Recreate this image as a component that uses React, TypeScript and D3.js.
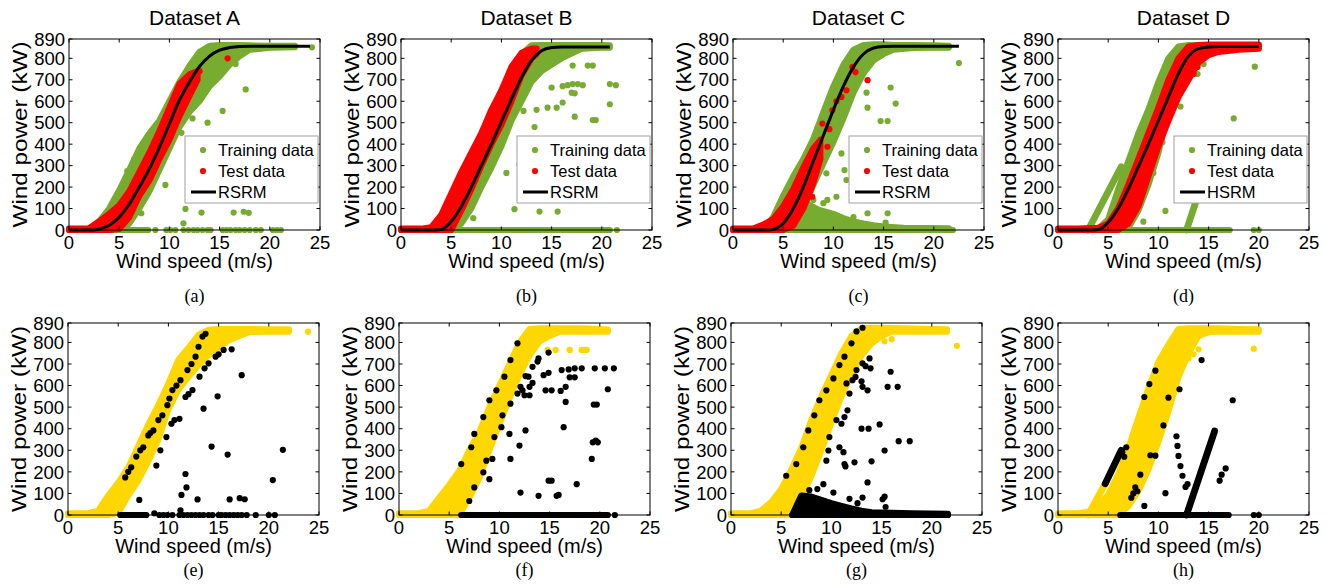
import React from 'react';
import * as d3 from 'd3';

type Pt = [number, number];

const speedTicks = [0, 5, 10, 15, 20, 25];
const powerTicks = [0, 100, 200, 300, 400, 500, 600, 700, 800, 890];
const titles = ['Dataset A', 'Dataset B', 'Dataset C', 'Dataset D'];
const topCaptions = ['(a)', '(b)', '(c)', '(d)'];
const bottomCaptions = ['(e)', '(f)', '(g)', '(h)'];
const modelNames = ['RSRM', 'RSRM', 'RSRM', 'HSRM'];

const GREEN = '#77ac30';
const RED = '#ff0000';
const GOLD = '#ffd700';
const BLACK = '#000000';

// ---- Dataset A (top) ----
const aTrainSpeed = [2, 3, 4, 5, 6, 7, 8, 9, 10, 11, 12, 13, 14, 15, 16, 17, 18, 20, 22.5];
const aTrainHigh = [5, 40, 100, 185, 280, 380, 450, 510, 600, 690, 765, 830, 858, 862, 862, 862, 860, 858, 858];
const aTrainLow = [0, 0, 0, 0, 30, 100, 180, 280, 380, 480, 550, 600, 670, 715, 770, 810, 840, 850, 852];
const aTrainDots: Pt[] = [[24.2, 851], [15.3, 555], [13.8, 500], [17.6, 655], [11.2, 453], [11.6, 98], [11.4, 31], [13.2, 81], [16.4, 81], [17.4, 85], [17.9, 80], [16.6, 773], [4.0, 81], [7.2, 78], [13.2, 705], [14.5, 740], [5.8, 275], [6.5, 330], [9.6, 210], [12.3, 520]];
const aTrainZeroRun = [0, 7.9];
const aTrainZeros = [8.6, 9.7, 10.1, 10.6, 11.4, 11.9, 12.4, 12.8, 13.3, 13.8, 14.1, 15.3, 15.7, 16.1, 16.6, 17.0, 17.5, 18.0, 18.6, 19.1, 20.3, 20.7, 21.1];
const aTestSpeed = [0, 1, 2, 3, 4, 5, 6, 7, 8, 9, 10, 11, 12, 12.8];
const aTestHigh = [6, 6, 8, 40, 75, 115, 180, 270, 360, 460, 570, 680, 725, 740];
const aTestLow = [0, 0, 0, 0, 0, 5, 60, 160, 230, 330, 420, 530, 625, 700];
const aTestDots: Pt[] = [[15.8, 800], [13.0, 740]];
const aModelSpeed = [0, 1, 2, 2.5, 3, 4, 5, 6, 7, 8, 9, 10, 11, 12, 13, 14, 15, 16, 17, 18, 20, 22, 24];
const aModelPower = [0, 0, 0, 0, 5, 22, 60, 120, 200, 285, 385, 495, 605, 690, 762, 810, 838, 850, 855, 856, 856, 856, 856];

// ---- Dataset B (top) ----
const bTrainSpeed = [3, 4, 5, 6, 7, 8, 9, 10, 11, 12, 13, 14, 15, 16, 18, 20, 20.8];
const bTrainHigh = [5, 50, 160, 260, 350, 450, 550, 650, 740, 820, 860, 862, 862, 862, 862, 862, 860];
const bTrainLow = [0, 0, 0, 30, 100, 200, 290, 390, 510, 600, 690, 740, 770, 800, 845, 850, 850];
const bTrainDots: Pt[] = [[17.1, 766], [18.6, 766], [19.1, 766], [15.0, 664], [16.1, 670], [16.6, 675], [17.1, 680], [17.6, 680], [18.1, 675], [17.3, 637], [17.0, 640], [14.6, 570], [15.5, 570], [16.1, 594], [17.3, 528], [19.1, 512], [19.4, 512], [20.8, 680], [21.4, 675], [20.8, 586], [12.2, 555], [11.8, 305], [12.6, 266], [10.5, 266], [12.3, 164], [11.3, 97], [13.8, 86], [15.6, 86], [7.2, 55], [13.5, 560], [13.3, 480]];
const bTrainZeroRun = [0, 20.8];
const bTrainZeros = [21.5];
const bTestSpeed = [0, 2, 3, 4, 5, 6, 7, 8, 9, 10, 11, 12, 13, 13.5];
const bTestHigh = [6, 6, 12, 70, 170, 270, 360, 450, 560, 650, 760, 825, 845, 845];
const bTestLow = [0, 0, 0, 0, 0, 90, 190, 300, 400, 490, 600, 720, 800, 820];
const bModelSpeed = [0, 3.5, 4, 5, 6, 7, 8, 9, 10, 11, 12, 13, 14, 15, 16, 17, 18, 20, 20.8];
const bModelPower = [0, 0, 2, 40, 110, 200, 300, 400, 505, 610, 710, 790, 835, 850, 853, 853, 853, 853, 853];

// ---- Dataset C (top) ----
const cTrainSpeed = [3, 4, 5, 6, 7, 8, 9, 10, 11, 12, 13, 14, 15, 16, 18, 20, 21.5];
const cTrainHigh = [5, 60, 160, 250, 330, 425, 550, 670, 770, 840, 862, 865, 865, 862, 862, 860, 858];
const cTrainLow = [0, 0, 0, 20, 90, 210, 310, 410, 520, 640, 730, 790, 820, 840, 848, 850, 850];
const cSpraySpeed = [5.5, 6.5, 7.5, 8.5, 10, 11, 12, 13, 14, 15, 17, 21.5];
const cSprayHigh = [0, 110, 120, 95, 75, 55, 40, 30, 22, 16, 10, 8];
const cSprayLow = [0, 0, 0, 0, 0, 0, 0, 0, 0, 0, 0, 0];
const cTrainDots: Pt[] = [[15.7, 664], [16.2, 589], [14.7, 508], [15.4, 508], [13.4, 570], [10.8, 357], [11.1, 279], [11.3, 233], [9.3, 264], [9.4, 140], [10.3, 155], [13.4, 78], [15.4, 78], [15.2, 34], [22.5, 778], [12.3, 720], [13.3, 640], [6.3, 178], [6.9, 165], [8.0, 140], [9.0, 125], [12.0, 60]];
const cTrainZeroRun = [0, 21.9];
const cTestSpeed = [0, 2, 3, 4, 5, 6, 7, 8, 8.7];
const cTestHigh = [6, 6, 25, 50, 110, 190, 290, 380, 420];
const cTestLow = [0, 0, 0, 0, 0, 20, 100, 220, 330];
const cTestDots: Pt[] = [[9.9, 558], [10.8, 620], [11.3, 651], [11.9, 760], [12.2, 736], [13.4, 698], [8.9, 496], [9.4, 388], [8.3, 372], [7.9, 155], [9.6, 470], [10.3, 600]];
const cModelSpeed = [0, 3.5, 4, 5, 6, 7, 8, 9, 10, 11, 12, 13, 14, 15, 16, 18, 20, 22.5];
const cModelPower = [0, 0, 3, 30, 100, 200, 320, 440, 560, 670, 760, 820, 848, 855, 856, 856, 856, 856];

// ---- Dataset D (top) ----
const dTrainSpeed = [4, 5, 6, 7, 8, 9, 10, 11, 12, 13, 14, 15, 16, 18, 20];
const dTrainHigh = [5, 50, 190, 320, 450, 560, 690, 800, 855, 862, 862, 862, 862, 860, 858];
const dTrainLow = [0, 0, 0, 10, 90, 210, 360, 560, 690, 780, 840, 848, 850, 850, 850];
const dTrainDots: Pt[] = [[9.5, 266], [10.7, 89], [10.4, 409], [12.2, 575], [11.9, 359], [8.5, 39], [17.5, 520], [19.6, 761], [7.5, 109], [7.8, 130], [8.0, 156], [14.5, 773], [13.9, 727], [6.5, 280], [6.9, 300]];
const dSlantLeft: Pt[] = [[3.0, 0], [6.3, 295]];
const dSlantRight: Pt[] = [[12.8, 0], [15.5, 380]];
const dTrainZeroRun = [0, 17.1];
const dTrainZeros = [19.5, 20.0];
const dTestSpeed = [0, 2, 4, 5, 6, 7, 8, 9, 10, 11, 12, 13, 14, 15, 16, 18, 20];
const dTestHigh = [6, 6, 10, 30, 100, 210, 330, 450, 570, 700, 800, 855, 862, 864, 864, 864, 864];
const dTestLow = [0, 0, 0, 0, 0, 30, 110, 250, 390, 510, 620, 700, 780, 815, 830, 840, 845];
const dTestDots: Pt[] = [[12.8, 695], [13.5, 727], [12.3, 770], [13.9, 760]];
const dModelSpeed = [0, 3.5, 4, 5, 6, 7, 8, 9, 10, 11, 12, 13, 14, 15, 16, 18, 20];
const dModelPower = [0, 0, 2, 35, 100, 190, 295, 400, 510, 620, 730, 810, 845, 853, 855, 855, 855];

// ---- bottom row: fitted (gold) vs flagged (black) ----
const eFitSpeed = [0, 2, 3, 4, 5, 6, 7, 8, 9, 10, 11, 12, 13, 14, 15, 16, 18, 20, 22];
const eFitHigh = [8, 8, 20, 90, 150, 220, 320, 420, 510, 610, 720, 775, 835, 858, 862, 862, 862, 860, 860];
const eFitLow = [0, 0, 0, 0, 10, 90, 160, 250, 350, 490, 580, 640, 695, 740, 775, 810, 848, 850, 850];
const eFitDots: Pt[] = [[23.9, 850]];
const eFlagDots: Pt[] = [[5.7, 174], [6.3, 221], [6.8, 271], [7.5, 314], [8.0, 369], [8.5, 392], [9.4, 462], [9.9, 509], [10.4, 579], [11.2, 625], [11.9, 672], [12.7, 734], [13.4, 827], [8.8, 229], [9.8, 361], [10.3, 423], [11.1, 446], [11.7, 547], [12.4, 579], [13.1, 641], [14.0, 703], [14.7, 734], [15.5, 765], [16.3, 768], [13.5, 493], [14.9, 550], [17.3, 648], [14.3, 317], [15.9, 280], [21.4, 302], [20.4, 162], [11.7, 190], [11.8, 128], [11.3, 93], [11.2, 22], [12.9, 72], [16.1, 72], [17.1, 78], [17.6, 73], [7.1, 70], [8.6, 8], [6.0, 200], [7.2, 300], [8.2, 380], [9.0, 440], [10.1, 540], [10.8, 600], [12.3, 700], [13.0, 780], [13.7, 840], [9.2, 300], [10.6, 440], [12.0, 560], [13.6, 680], [15.0, 745]];
const eFlagZeroRun = [5.2, 7.8];
const eFlagZeros = [9.1, 9.5, 9.9, 10.4, 11.1, 11.5, 11.9, 12.3, 12.7, 13.1, 13.5, 14.0, 14.4, 15.0, 15.3, 15.7, 16.1, 16.5, 16.9, 17.3, 17.8, 18.7, 20.0, 20.6];

const fFitSpeed = [0, 2, 3, 4, 5, 6, 7, 8, 9, 10, 11, 12, 13, 14, 15, 16, 18, 20, 20.8];
const fFitHigh = [8, 8, 20, 80, 140, 205, 300, 385, 500, 600, 700, 800, 862, 865, 865, 865, 865, 862, 860];
const fFitLow = [0, 0, 0, 0, 0, 0, 80, 170, 300, 420, 540, 650, 740, 805, 830, 850, 850, 850, 850];
const fFitDots: Pt[] = [[14.8, 765], [15.6, 765], [17.0, 765], [18.2, 765], [18.5, 765], [18.7, 765]];
const fFlagDots: Pt[] = [[6.2, 236], [7.2, 314], [7.5, 376], [8.4, 454], [9.0, 532], [9.7, 578], [10.5, 641], [11.1, 718], [11.8, 796], [7.5, 128], [7.0, 65], [8.4, 198], [8.7, 252], [9.3, 260], [9.5, 361], [10.2, 407], [10.3, 462], [11.1, 516], [11.8, 563], [12.1, 594], [12.9, 641], [13.3, 687], [13.8, 711], [13.9, 726], [14.9, 753], [12.6, 644], [13.0, 594], [13.0, 555], [14.4, 648], [14.9, 659], [14.6, 578], [15.2, 578], [16.1, 575], [16.6, 594], [16.6, 524], [16.4, 407], [16.2, 672], [16.9, 675], [17.5, 680], [18.2, 680], [17.0, 638], [17.5, 638], [19.5, 680], [20.5, 680], [21.4, 680], [20.8, 583], [19.4, 512], [19.7, 512], [19.3, 337], [19.6, 345], [19.8, 337], [19.2, 260], [14.9, 159], [15.2, 159], [13.9, 89], [15.7, 89], [15.9, 93], [12.1, 104], [12.6, 392], [11.0, 376], [11.1, 260], [9.0, 166], [17.7, 143], [12.0, 322], [12.3, 578], [12.5, 555], [13.3, 612]];
const fFlagZeroRun = [6.2, 20.8];
const fFlagZeros = [21.5];

const gFitSpeed = [0, 2, 3, 4, 5, 6, 7, 8, 9, 10, 11, 12, 13, 14, 15, 16, 18, 20, 21.5];
const gFitHigh = [8, 8, 20, 60, 120, 210, 310, 440, 550, 650, 750, 830, 865, 868, 868, 866, 864, 862, 860];
const gFitLow = [0, 0, 0, 0, 0, 0, 80, 180, 300, 430, 550, 650, 740, 795, 830, 850, 850, 850, 850];
const gFitDots: Pt[] = [[22.5, 784], [14.5, 812], [15.3, 805], [16.0, 815]];
const gFlagDots: Pt[] = [[12.5, 851], [13.1, 868], [12.0, 796], [11.3, 734], [10.8, 695], [10.2, 633], [9.5, 578], [8.8, 532], [8.3, 462], [7.7, 392], [7.2, 314], [6.5, 236], [5.5, 182], [9.8, 361], [9.7, 299], [9.5, 252], [10.8, 314], [11.0, 423], [11.3, 454], [11.6, 485], [11.8, 563], [12.1, 625], [12.5, 672], [13.1, 703], [13.8, 726], [13.9, 680], [13.1, 594], [13.6, 578], [13.0, 400], [13.7, 400], [14.8, 420], [15.6, 594], [15.9, 664], [16.6, 594], [16.7, 342], [17.8, 342], [15.3, 299], [13.6, 151], [15.1, 73], [15.3, 85], [15.4, 37], [14.0, 249], [11.3, 236], [11.4, 225], [12.3, 244], [11.2, 291], [10.2, 104], [9.2, 143], [13.1, 81], [13.0, 620], [13.4, 690], [12.4, 640], [10.5, 440], [11.5, 610], [8.6, 120], [7.8, 115], [11.8, 75], [12.6, 55]];
const gSpraySpeed = [6.1, 7, 8, 9, 10, 11, 12, 13, 14, 16, 18, 21.6];
const gSprayHigh = [0, 90, 85, 70, 55, 42, 30, 20, 12, 10, 8, 5];
const gSprayLow = [0, 0, 0, 0, 0, 0, 0, 0, 0, 0, 0, 0];
const gFlagZeroRun = [6.1, 17.7];
const gFlagZeros = [18.4, 18.9, 19.6, 20.4, 21.0, 21.6];

const hFitSpeed = [0, 2, 3, 4, 5, 6, 7, 8, 9, 10, 11, 12, 13, 14, 15, 16, 18, 20];
const hFitHigh = [8, 8, 15, 40, 95, 190, 310, 450, 585, 710, 790, 862, 865, 865, 865, 865, 862, 860];
const hFitLow = [0, 0, 0, 0, 0, 0, 40, 110, 210, 340, 480, 640, 750, 830, 848, 850, 850, 850];
const hFitDots: Pt[] = [[19.5, 771], [14.0, 768], [13.0, 726], [13.5, 745]];
const hSlantGold: Pt[] = [[3.0, 0], [4.7, 145]];
const hSlantBlack: Pt[] = [[4.7, 145], [6.3, 300]];
const hSlantRight: Pt[] = [[12.8, 0], [15.6, 389]];
const hFlagDots: Pt[] = [[14.3, 718], [17.4, 532], [9.7, 669], [9.1, 607], [8.6, 547], [11.0, 544], [12.1, 583], [10.5, 415], [11.8, 365], [11.9, 320], [12.0, 274], [12.2, 227], [12.4, 182], [12.9, 143], [16.1, 159], [16.3, 187], [16.7, 216], [9.2, 277], [9.7, 275], [8.6, 42], [10.7, 101], [7.3, 80], [7.5, 100], [7.7, 128], [7.9, 110], [8.2, 187], [6.8, 314], [6.4, 290], [6.6, 270], [12.7, 130]];
const hFlagZeroRun = [6.2, 17.0];
const hFlagZeros = [19.5, 20.0];

type Layer =
  | { kind: 'band'; color: string; speed: number[]; low: number[]; high: number[] }
  | { kind: 'run'; color: string; span: number[] }
  | { kind: 'dots'; color: string; pts: Pt[] }
  | { kind: 'zeros'; color: string; speeds: number[] }
  | { kind: 'seg'; color: string; pts: Pt[] }
  | { kind: 'curve'; color: string; speed: number[]; power: number[] };

const band = (color: string, speed: number[], low: number[], high: number[]): Layer => ({ kind: 'band', color, speed, low, high });

const topLayers: Layer[][] = [
  [
    band(GREEN, aTrainSpeed, aTrainLow, aTrainHigh),
    { kind: 'run', color: GREEN, span: aTrainZeroRun },
    { kind: 'zeros', color: GREEN, speeds: aTrainZeros },
    { kind: 'dots', color: GREEN, pts: aTrainDots },
    band(RED, aTestSpeed, aTestLow, aTestHigh),
    { kind: 'dots', color: RED, pts: aTestDots },
    { kind: 'curve', color: BLACK, speed: aModelSpeed, power: aModelPower },
  ],
  [
    band(GREEN, bTrainSpeed, bTrainLow, bTrainHigh),
    { kind: 'run', color: GREEN, span: bTrainZeroRun },
    { kind: 'zeros', color: GREEN, speeds: bTrainZeros },
    { kind: 'dots', color: GREEN, pts: bTrainDots },
    band(RED, bTestSpeed, bTestLow, bTestHigh),
    { kind: 'curve', color: BLACK, speed: bModelSpeed, power: bModelPower },
  ],
  [
    band(GREEN, cTrainSpeed, cTrainLow, cTrainHigh),
    band(GREEN, cSpraySpeed, cSprayLow, cSprayHigh),
    { kind: 'run', color: GREEN, span: cTrainZeroRun },
    { kind: 'dots', color: GREEN, pts: cTrainDots },
    band(RED, cTestSpeed, cTestLow, cTestHigh),
    { kind: 'dots', color: RED, pts: cTestDots },
    { kind: 'curve', color: BLACK, speed: cModelSpeed, power: cModelPower },
  ],
  [
    band(GREEN, dTrainSpeed, dTrainLow, dTrainHigh),
    { kind: 'run', color: GREEN, span: dTrainZeroRun },
    { kind: 'zeros', color: GREEN, speeds: dTrainZeros },
    { kind: 'dots', color: GREEN, pts: dTrainDots },
    { kind: 'seg', color: GREEN, pts: dSlantLeft },
    { kind: 'seg', color: GREEN, pts: dSlantRight },
    band(RED, dTestSpeed, dTestLow, dTestHigh),
    { kind: 'dots', color: RED, pts: dTestDots },
    { kind: 'curve', color: BLACK, speed: dModelSpeed, power: dModelPower },
  ],
];

const bottomLayers: Layer[][] = [
  [
    band(GOLD, eFitSpeed, eFitLow, eFitHigh),
    { kind: 'dots', color: GOLD, pts: eFitDots },
    { kind: 'run', color: BLACK, span: eFlagZeroRun },
    { kind: 'zeros', color: BLACK, speeds: eFlagZeros },
    { kind: 'dots', color: BLACK, pts: eFlagDots },
  ],
  [
    band(GOLD, fFitSpeed, fFitLow, fFitHigh),
    { kind: 'dots', color: GOLD, pts: fFitDots },
    { kind: 'run', color: BLACK, span: fFlagZeroRun },
    { kind: 'zeros', color: BLACK, speeds: fFlagZeros },
    { kind: 'dots', color: BLACK, pts: fFlagDots },
  ],
  [
    band(GOLD, gFitSpeed, gFitLow, gFitHigh),
    { kind: 'dots', color: GOLD, pts: gFitDots },
    band(BLACK, gSpraySpeed, gSprayLow, gSprayHigh),
    { kind: 'run', color: BLACK, span: gFlagZeroRun },
    { kind: 'zeros', color: BLACK, speeds: gFlagZeros },
    { kind: 'dots', color: BLACK, pts: gFlagDots },
  ],
  [
    band(GOLD, hFitSpeed, hFitLow, hFitHigh),
    { kind: 'dots', color: GOLD, pts: hFitDots },
    { kind: 'seg', color: GOLD, pts: hSlantGold },
    { kind: 'seg', color: BLACK, pts: hSlantBlack },
    { kind: 'seg', color: BLACK, pts: hSlantRight },
    { kind: 'run', color: BLACK, span: hFlagZeroRun },
    { kind: 'zeros', color: BLACK, speeds: hFlagZeros },
    { kind: 'dots', color: BLACK, pts: hFlagDots },
  ],
];

const SANS = '"Liberation Sans", Arial, sans-serif';
const SERIF = '"Liberation Serif", "Times New Roman", serif';
const R = 3.1;

function Panel(props: {
  left: number; top: number; width: number; height: number;
  layers: Layer[]; title?: string; caption: string; captionY: number; model?: string;
}) {
  const { left, top, width, height, layers, title, caption, captionY, model } = props;
  const x = d3.scaleLinear().domain([0, 25]).range([left, left + width]);
  const y = d3.scaleLinear().domain([0, 890]).range([top + height, top]);
  const bottom = top + height;
  const right = left + width;
  const line = d3.line<Pt>().x(d => x(d[0])).y(d => y(d[1]));

  const drawLayer = (l: Layer, i: number) => {
    if (l.kind === 'band') {
      const area = d3.area<number>()
        .x(s => x(s))
        .y0((_, k) => y(l.low[k]))
        .y1((_, k) => y(l.high[k]));
      return <path key={i} d={area(l.speed) || ''} fill={l.color} stroke={l.color} strokeWidth={R * 2} strokeLinejoin="round" />;
    }
    if (l.kind === 'run') {
      return <path key={i} d={line([[l.span[0], 0], [l.span[1], 0]]) || ''} stroke={l.color} strokeWidth={R * 2} strokeLinecap="round" fill="none" />;
    }
    if (l.kind === 'seg') {
      return <path key={i} d={line(l.pts) || ''} stroke={l.color} strokeWidth={R * 2.2} strokeLinecap="round" fill="none" />;
    }
    if (l.kind === 'zeros') {
      return <g key={i}>{l.speeds.map((s, k) => <circle key={k} cx={x(s)} cy={y(0)} r={R} fill={l.color} />)}</g>;
    }
    if (l.kind === 'dots') {
      return <g key={i}>{l.pts.map((p, k) => <circle key={k} cx={x(p[0])} cy={y(p[1])} r={R} fill={l.color} />)}</g>;
    }
    const pts: Pt[] = l.speed.map((s, k) => [s, l.power[k]]);
    const curve = d3.line<Pt>().x(d => x(d[0])).y(d => y(d[1])).curve(d3.curveMonotoneX);
    return <path key={i} d={curve(pts) || ''} stroke={l.color} strokeWidth={3} fill="none" />;
  };

  const tk = 3.5;
  const lgW = 133, lgH = 67;
  const lgL = right - 2 - lgW, lgT = 136;

  return (
    <g>
      {layers.map(drawLayer)}
      <rect x={left} y={top} width={width} height={height} fill="none" stroke="#000" strokeWidth={1} />
      {speedTicks.map(t => (
        <g key={'x' + t}>
          <line x1={x(t)} x2={x(t)} y1={bottom} y2={bottom - tk} stroke="#000" />
          <line x1={x(t)} x2={x(t)} y1={top} y2={top + tk} stroke="#000" />
          <text x={x(t)} y={bottom + 18.5} textAnchor="middle" fontFamily={SANS} fontSize={18.5}>{t}</text>
        </g>
      ))}
      {powerTicks.map(t => (
        <g key={'y' + t}>
          <line x1={left} x2={left + tk} y1={y(t)} y2={y(t)} stroke="#000" />
          <line x1={right} x2={right - tk} y1={y(t)} y2={y(t)} stroke="#000" />
          <text x={left - 4} y={y(t)} dy="0.36em" textAnchor="end" fontFamily={SANS} fontSize={18.5}>{t}</text>
        </g>
      ))}
      <text x={(left + right) / 2} y={bottom + 38} textAnchor="middle" fontFamily={SANS} fontSize={20}>Wind speed (m/s)</text>
      <text transform={`translate(${left - 42},${(top + bottom) / 2}) rotate(-90)`} textAnchor="middle" fontFamily={SANS} fontSize={21}
        textLength={186} lengthAdjust="spacingAndGlyphs">Wind power (kW)</text>
      {title && <text x={(left + right) / 2} y={top - 14} textAnchor="middle" fontFamily={SANS} fontSize={21}>{title}</text>}
      <text x={(left + right) / 2} y={captionY} textAnchor="middle" fontFamily={SERIF} fontSize={18}>{caption}</text>
      {model && (
        <g>
          <rect x={lgL} y={lgT} width={lgW} height={lgH} fill="#fff" stroke="#a0a0a0" strokeWidth={1} />
          <circle cx={lgL + 18} cy={lgT + 14} r={R} fill={GREEN} />
          <text x={lgL + 33} y={lgT + 14} dy="0.36em" fontFamily={SANS} fontSize={16.5}>Training data</text>
          <circle cx={lgL + 18} cy={lgT + 35} r={R} fill={RED} />
          <text x={lgL + 33} y={lgT + 35} dy="0.36em" fontFamily={SANS} fontSize={16.5}>Test data</text>
          <line x1={lgL + 6} x2={lgL + 31} y1={lgT + 56} y2={lgT + 56} stroke="#000" strokeWidth={3} />
          <text x={lgL + 33} y={lgT + 56} dy="0.36em" fontFamily={SANS} fontSize={16.5}>{model}</text>
        </g>
      )}
    </g>
  );
}

const topLefts = [69, 401, 733, 1058];
const bottomLefts = [68, 399, 731, 1058];

export default function App() {
  return (
    <svg width={1343} height={585} style={{ position: 'absolute', left: 0, top: 0, background: '#fff' }}>
      {topLefts.map((l, i) => (
        <Panel key={'t' + i} left={l} top={39} width={251} height={191} layers={topLayers[i]}
          title={titles[i]} caption={topCaptions[i]} captionY={302} model={modelNames[i]} />
      ))}
      {bottomLefts.map((l, i) => (
        <Panel key={'b' + i} left={l} top={323} width={251} height={192} layers={bottomLayers[i]}
          caption={bottomCaptions[i]} captionY={576} />
      ))}
    </svg>
  );
}
